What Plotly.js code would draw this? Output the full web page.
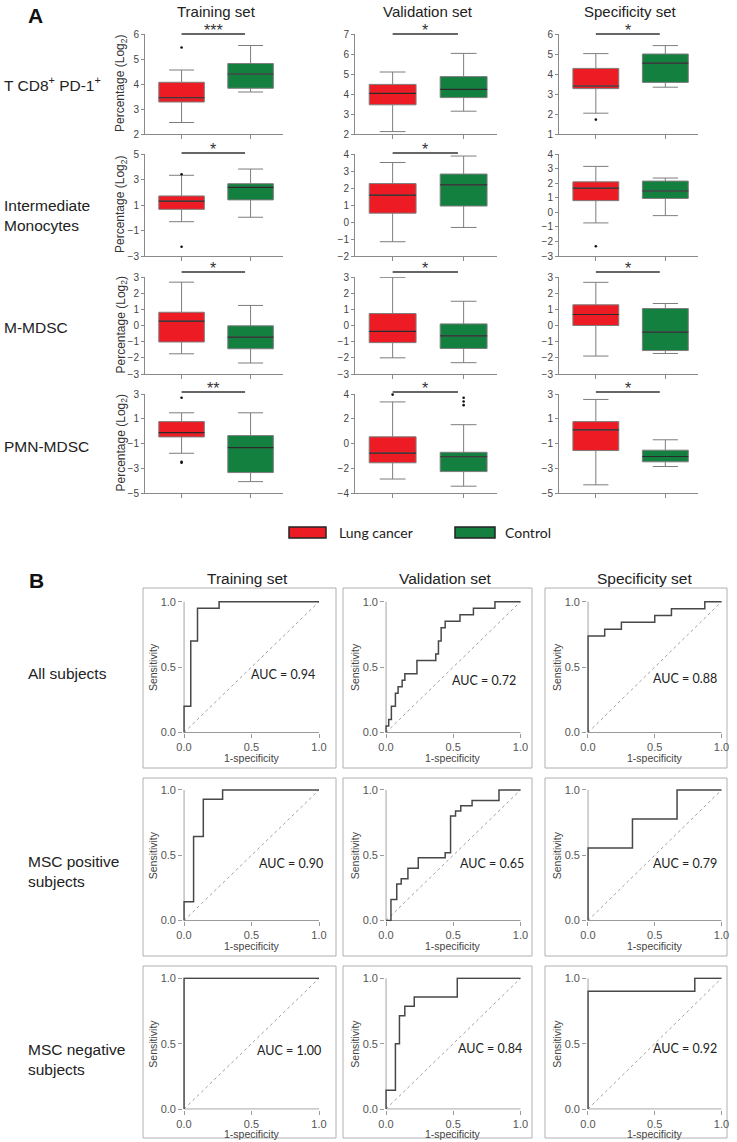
<!DOCTYPE html>
<html><head><meta charset="utf-8">
<script src="https://cdn.plot.ly/plotly-3.0.1.min.js"></script>
<style>html,body{margin:0;padding:0;background:#fff}#chart{width:737px;height:1142px}</style>
</head><body><div id="chart"></div>
<script>
// ---------------- DATA ----------------
const SETS = ['Training set', 'Validation set', 'Specificity set'];
const MARKERS = ['T CD8<sup>+</sup> PD-1<sup>+</sup>', 'Intermediate<br>Monocytes', 'M-MDSC', 'PMN-MDSC'];
const GROUPS = ['Lung cancer', 'Control'];
const ROC_GROUPS = ['All subjects', 'MSC positive<br>subjects', 'MSC negative<br>subjects'];

// box stats per set (Training, Validation, Specificity): [lower whisker, Q1, median, Q3, upper whisker]
const CD8_LUNG   = [[2.46, 3.28, 3.45, 4.07, 4.56], [2.12, 3.46, 4.03, 4.48, 5.10], [2.04, 3.27, 3.40, 4.28, 5.02]];
const CD8_CTRL   = [[3.68, 3.83, 4.40, 4.82, 5.54], [3.14, 3.82, 4.23, 4.87, 6.03], [3.34, 3.58, 4.54, 5.00, 5.42]];
const IMONO_LUNG = [[-0.31, 0.66, 1.31, 1.71, 3.33], [-1.16, 0.52, 1.58, 2.26, 3.50], [-0.73, 0.80, 1.66, 2.09, 3.15]];
const IMONO_CTRL = [[0.04, 1.40, 2.39, 2.67, 3.82], [-0.32, 0.94, 2.18, 2.82, 3.88], [-0.23, 0.95, 1.46, 2.14, 2.35]];
const MMDSC_LUNG = [[-1.75, -1.02, 0.27, 0.82, 2.68], [-2.00, -1.06, -0.36, 0.74, 2.98], [-1.89, 0.00, 0.68, 1.28, 2.67]];
const MMDSC_CTRL = [[-2.32, -1.44, -0.72, -0.02, 1.24], [-2.30, -1.42, -0.64, 0.10, 1.50], [-1.73, -1.55, -0.41, 1.05, 1.36]];
const PMN_LUNG   = [[-1.79, -0.47, -0.12, 0.77, 1.48], [-2.87, -1.56, -0.77, 0.54, 3.36], [-4.34, -1.57, 0.10, 0.77, 2.56]];
const PMN_CTRL   = [[-4.08, -3.35, -1.33, -0.36, 1.48], [-3.45, -2.27, -1.07, -0.71, 1.52], [-2.86, -2.48, -2.05, -1.54, -0.70]];

// outliers: [set index, group index, value]
const CD8_OUT   = [[0, 0, 5.46], [2, 0, 1.72]];
const IMONO_OUT = [[0, 0, 3.41], [0, 0, -2.27], [2, 0, -2.33]];
const MMDSC_OUT = [];
const PMN_OUT   = [[0, 0, 2.70], [0, 0, -2.48], [0, 0, -2.56], [1, 0, 3.95], [1, 1, 3.70], [1, 1, 3.40], [1, 1, 3.10]];

const SIGNIF = [['***', '*', '*'], ['*', '*', ''], ['*', '*', '*'], ['**', '*', '*']];

const Y_RANGES = [[[2, 6], [2, 7], [1, 6]], [[-3, 5], [-2, 4], [-3, 4]], [[-3, 3], [-3, 3], [-3, 3]], [[-5, 3], [-4, 4], [-5, 3]]];
const Y_DTICK  = [[1, 1, 1], [2, 1, 1], [1, 1, 1], [2, 2, 2]];

// ROC curves (1-specificity, sensitivity)
const ALL_TRAIN_FPR = [0, 0, 0.05, 0.05, 0.10, 0.10, 0.26, 0.26, 1];
const ALL_TRAIN_TPR = [0, 0.20, 0.20, 0.70, 0.70, 0.95, 0.95, 1, 1];
const ALL_VAL_FPR = [0, 0, 0.02, 0.02, 0.04, 0.04, 0.07, 0.07, 0.09, 0.09, 0.12, 0.12, 0.14, 0.14, 0.23, 0.23, 0.37, 0.37, 0.39, 0.39, 0.41, 0.41, 0.44, 0.44, 0.55, 0.55, 0.65, 0.65, 0.81, 0.81, 1];
const ALL_VAL_TPR = [0, 0.05, 0.05, 0.10, 0.10, 0.20, 0.20, 0.30, 0.30, 0.35, 0.35, 0.40, 0.40, 0.45, 0.45, 0.55, 0.55, 0.60, 0.60, 0.70, 0.70, 0.80, 0.80, 0.85, 0.85, 0.90, 0.90, 0.95, 0.95, 1, 1];
const ALL_SPEC_FPR = [0, 0, 0.125, 0.125, 0.25, 0.25, 0.5, 0.5, 0.625, 0.625, 0.875, 0.875, 1];
const ALL_SPEC_TPR = [0, 0.737, 0.737, 0.789, 0.789, 0.842, 0.842, 0.895, 0.895, 0.947, 0.947, 1, 1];
const POS_TRAIN_FPR = [0, 0, 0.071, 0.071, 0.143, 0.143, 0.286, 0.286, 1];
const POS_TRAIN_TPR = [0, 0.143, 0.143, 0.643, 0.643, 0.929, 0.929, 1, 1];
const POS_VAL_FPR = [0, 0.037, 0.037, 0.08, 0.08, 0.113, 0.113, 0.163, 0.163, 0.24, 0.24, 0.44, 0.44, 0.48, 0.48, 0.517, 0.517, 0.556, 0.556, 0.64, 0.64, 0.84, 0.84, 1];
const POS_VAL_TPR = [0, 0, 0.16, 0.16, 0.28, 0.28, 0.32, 0.32, 0.40, 0.40, 0.48, 0.48, 0.52, 0.52, 0.80, 0.80, 0.84, 0.84, 0.88, 0.88, 0.92, 0.92, 1, 1];
const POS_SPEC_FPR = [0, 0, 0.333, 0.333, 0.667, 0.667, 1];
const POS_SPEC_TPR = [0, 0.556, 0.556, 0.778, 0.778, 1, 1];
const NEG_TRAIN_FPR = [0, 0, 1];
const NEG_TRAIN_TPR = [0, 1, 1];
const NEG_VAL_FPR = [0, 0, 0.07, 0.07, 0.10, 0.10, 0.14, 0.14, 0.21, 0.21, 0.53, 0.53, 1];
const NEG_VAL_TPR = [0, 0.143, 0.143, 0.50, 0.50, 0.714, 0.714, 0.786, 0.786, 0.857, 0.857, 1, 1];
const NEG_SPEC_FPR = [0, 0, 0.8, 0.8, 1];
const NEG_SPEC_TPR = [0, 0.9, 0.9, 1, 1];
const AUC = [[0.94, 0.72, 0.88], [0.90, 0.65, 0.79], [1.00, 0.84, 0.92]];
const DIAG = [0, 1];

// ---------------- LAYOUT HELPERS ----------------
const W = 737, H = 1142;
const fx = p => p / W, fy = p => 1 - p / H;
const FONT = 'Liberation Sans, Arial, sans-serif';
const CAL = 'Lato, Carlito, sans-serif';
const COLORS = ['#ed1c24', '#138040'];
const BOX_W = 0.66;
const BOX_COLS = [[145, 283], [355, 497], [559, 698]];
const BOX_ROWS = [[34, 134], [154, 256], [277, 374], [394, 493]];
const SIG_Y = [34, 153, 272, 392];
const ROC_COLS = [[184, 319], [386, 520.5], [588, 721.5]];
const ROC_ROWS = [[601.7, 732.5], [790, 920.5], [978.3, 1109]];
const FRAME_COLS = [[143, 336], [343, 532], [545, 727]];
const FRAME_ROWS = [[588, 768], [778, 956], [966, 1138]];
const AUC_POS_X = [[0.73, 0.73, 0.73], [0.79, 0.79, 0.73], [0.78, 0.77, 0.73]];
const AUC_POS_Y = [[0.44, 0.40, 0.41], [0.44, 0.44, 0.44], [0.45, 0.46, 0.46]];

const BOX_DATA = [[CD8_LUNG, CD8_CTRL], [IMONO_LUNG, IMONO_CTRL], [MMDSC_LUNG, MMDSC_CTRL], [PMN_LUNG, PMN_CTRL]];
const OUTLIERS = [CD8_OUT, IMONO_OUT, MMDSC_OUT, PMN_OUT];
const ROC_DATA = [
  [[ALL_TRAIN_FPR, ALL_TRAIN_TPR], [ALL_VAL_FPR, ALL_VAL_TPR], [ALL_SPEC_FPR, ALL_SPEC_TPR]],
  [[POS_TRAIN_FPR, POS_TRAIN_TPR], [POS_VAL_FPR, POS_VAL_TPR], [POS_SPEC_FPR, POS_SPEC_TPR]],
  [[NEG_TRAIN_FPR, NEG_TRAIN_TPR], [NEG_VAL_FPR, NEG_VAL_TPR], [NEG_SPEC_FPR, NEG_SPEC_TPR]]
];

const traces = [];
const annotations = [];
const shapes = [];
const layout = {
  width: W, height: H, margin: {l: 0, r: 0, t: 0, b: 0},
  paper_bgcolor: '#ffffff', plot_bgcolor: 'rgba(0,0,0,0)',
  showlegend: false, hovermode: false,
  font: {family: FONT, color: '#333'}
};
const names = k => ({xs: k === 1 ? 'x' : 'x' + k, ys: k === 1 ? 'y' : 'y' + k,
                     xk: k === 1 ? 'xaxis' : 'xaxis' + k, yk: k === 1 ? 'yaxis' : 'yaxis' + k});
function ann(text, x, y, o) {
  annotations.push(Object.assign({text: text, x: x, y: y, xref: 'paper', yref: 'paper', showarrow: false,
    xanchor: 'center', yanchor: 'middle', font: {family: FONT, size: 15, color: '#222'}}, o || {}));
}

// ---------------- PANEL A ----------------
ann('<b>A</b>', fx(35), fy(15), {font: {family: FONT, size: 21, color: '#111'}});
SETS.forEach((s, c) => ann(s, fx((BOX_COLS[c][0] + BOX_COLS[c][1]) / 2 + 2), fy(11), {font: {family: FONT, size: 15, color: '#222'}}));
const ROWLAB_Y = [84, 216, 327, 447];
MARKERS.forEach((m, r) => ann(m, fx(2), fy(ROWLAB_Y[r]), {xanchor: 'left', align: 'left', font: {family: FONT, size: 15.5, color: '#222'}}));

for (let r = 0; r < 4; r++) {
  for (let c = 0; c < 3; c++) {
    const k = r * 3 + c + 1;
    const nm = names(k);
    const rng = Y_RANGES[r][c];
    layout[nm.xk] = {domain: [fx(BOX_COLS[c][0]), fx(BOX_COLS[c][1])], range: [-0.53, 1.47], anchor: nm.ys,
      showgrid: false, zeroline: false, showline: true, linecolor: '#8a8a8a', linewidth: 1,
      ticks: 'outside', ticklen: 4, tickcolor: '#8a8a8a', tickvals: [0, 1], ticktext: ['', ''], fixedrange: true};
    layout[nm.yk] = {domain: [fy(BOX_ROWS[r][1]), fy(BOX_ROWS[r][0])], range: rng, anchor: nm.xs,
      showgrid: false, zeroline: false, showline: true, linecolor: '#8a8a8a', linewidth: 1,
      ticks: 'outside', ticklen: 3, tickcolor: '#8a8a8a', tick0: rng[0], dtick: Y_DTICK[r][c],
      tickfont: {family: FONT, size: 10, color: '#444'}, fixedrange: true};
    for (let g = 0; g < 2; g++) {
      const s = BOX_DATA[r][g][c];
      traces.push({type: 'box', x: [g], lowerfence: [s[0]], q1: [s[1]], median: [s[2]], q3: [s[3]], upperfence: [s[4]],
        width: BOX_W, whiskerwidth: 0.55, fillcolor: COLORS[g], line: {color: '#7d7d7d', width: 1},
        xaxis: nm.xs, yaxis: nm.ys, hoverinfo: 'skip', name: GROUPS[g]});
      traces.push({type: 'scatter', mode: 'lines', x: [g - BOX_W / 2, g + BOX_W / 2], y: [s[2], s[2]],
        line: {color: '#2a2a2a', width: 1.2}, xaxis: nm.xs, yaxis: nm.ys, hoverinfo: 'skip'});
    }
    const outs = OUTLIERS[r].filter(o => o[0] === c);
    if (outs.length) {
      traces.push({type: 'scatter', mode: 'markers', x: outs.map(o => o[1]), y: outs.map(o => o[2]),
        marker: {size: 2.6, color: '#111'}, xaxis: nm.xs, yaxis: nm.ys, hoverinfo: 'skip', cliponaxis: false});
    }
    if (SIGNIF[r][c]) {
      shapes.push({type: 'line', xref: nm.xs, yref: 'paper', x0: 0, x1: 0.92, y0: fy(SIG_Y[r]), y1: fy(SIG_Y[r]),
        line: {color: '#333', width: 1.5}});
      annotations.push({text: SIGNIF[r][c], xref: nm.xs, yref: 'paper', x: 0.46, y: fy(SIG_Y[r] + 7), yanchor: 'bottom',
        showarrow: false, font: {family: FONT, size: 16, color: '#333'}});
    }
    if (c === 0) {
      ann('Percentage (Log<sub>2</sub>)', fx(121), fy((BOX_ROWS[r][0] + BOX_ROWS[r][1]) / 2), {textangle: -90,
        font: {family: FONT, size: 12, color: '#333'}});
    }
  }
}

// legend
const LEG = [[289, 326, 337], [455, 495, 503]];
GROUPS.forEach((g, i) => {
  shapes.push({type: 'rect', xref: 'paper', yref: 'paper', x0: fx(LEG[i][0]), x1: fx(LEG[i][1]), y0: fy(538), y1: fy(527),
    fillcolor: COLORS[i], line: {color: '#222', width: 1.5}});
  ann(g, fx(LEG[i][2]), fy(532.5), {xanchor: 'left', font: {family: CAL, size: 14, color: '#222'}});
});

// ---------------- PANEL B ----------------
ann('<b>B</b>', fx(36), fy(580), {font: {family: FONT, size: 21, color: '#111'}});
SETS.forEach((s, c) => ann(s, fx((FRAME_COLS[c][0] + FRAME_COLS[c][1]) / 2 + 8), fy(578), {font: {family: FONT, size: 15.5, color: '#222'}}));
const ROCLAB_Y = [673, 871, 1059];
ROC_GROUPS.forEach((m, r) => ann(m, fx(26), fy(ROCLAB_Y[r]), {xanchor: 'left', align: 'left', font: {family: FONT, size: 15.5, color: '#222'}}));

const LO = -0.006, HI = 1.008;
for (let r = 0; r < 3; r++) {
  for (let c = 0; c < 3; c++) {
    const k = 13 + r * 3 + c;
    const nm = names(k);
    const [a, b] = ROC_COLS[c];
    const [t, bo] = ROC_ROWS[r];
    const w = b - a, h = bo - t;
    shapes.push({type: 'rect', xref: 'paper', yref: 'paper', layer: 'below',
      x0: fx(FRAME_COLS[c][0]), x1: fx(FRAME_COLS[c][1]), y0: fy(FRAME_ROWS[r][1]), y1: fy(FRAME_ROWS[r][0]),
      line: {color: '#b0b0b0', width: 1}});
    const axBase = {showgrid: false, zeroline: false, showline: false,
      ticks: 'outside', ticklen: 4, tickcolor: '#9a9a9a', tickvals: [0, 0.5, 1], tickformat: '.1f',
      tickfont: {family: FONT, size: 11, color: '#555'}, range: [LO, HI], fixedrange: true};
    layout[nm.xk] = Object.assign({}, axBase, {domain: [fx(a + LO * w), fx(a + HI * w)], anchor: nm.ys});
    layout[nm.yk] = Object.assign({}, axBase, {domain: [fy(bo - LO * h), fy(bo - HI * h)], anchor: nm.xs});
    // axis lines along value 0
    shapes.push({type: 'line', xref: nm.xs, yref: nm.ys, x0: 0, x1: 1, y0: 0, y1: 0, layer: 'below', line: {color: '#9a9a9a', width: 1}});
    shapes.push({type: 'line', xref: nm.xs, yref: nm.ys, x0: 0, x1: 0, y0: 0, y1: 1, layer: 'below', line: {color: '#9a9a9a', width: 1}});
    traces.push({type: 'scatter', mode: 'lines', x: DIAG, y: DIAG, line: {color: '#a0a0a0', width: 1, dash: 'dot'},
      xaxis: nm.xs, yaxis: nm.ys, hoverinfo: 'skip'});
    traces.push({type: 'scatter', mode: 'lines', x: ROC_DATA[r][c][0], y: ROC_DATA[r][c][1],
      line: {color: '#474747', width: 1.5}, xaxis: nm.xs, yaxis: nm.ys, hoverinfo: 'skip'});
    annotations.push({text: 'AUC = ' + AUC[r][c].toFixed(2), xref: nm.xs, yref: nm.ys, x: AUC_POS_X[r][c], y: AUC_POS_Y[r][c],
      showarrow: false, font: {family: CAL, size: 12.5, color: '#222'}});
    ann('Sensitivity', fx(a - 31), fy((t + bo) / 2), {textangle: -90, font: {family: FONT, size: 10.5, color: '#444'}});
    ann('1-specificity', fx((a + b) / 2), fy(bo + 25), {font: {family: FONT, size: 10.5, color: '#444'}});
  }
}

layout.annotations = annotations;
layout.shapes = shapes;
Plotly.newPlot('chart', traces, layout, {staticPlot: true, displayModeBar: false});
</script></body></html>
